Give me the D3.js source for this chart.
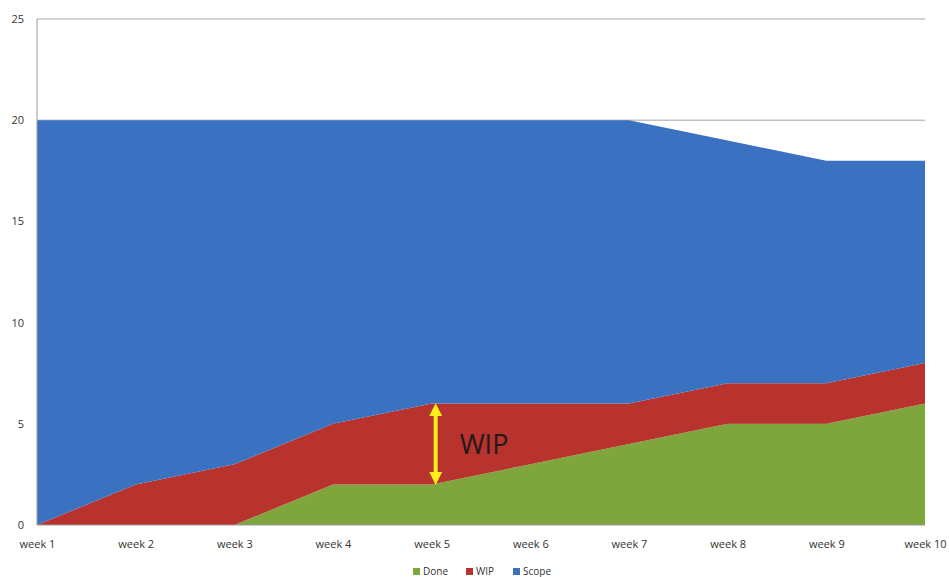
<!DOCTYPE html>
<html>
<head>
<meta charset="utf-8">
<script src="https://cdn.jsdelivr.net/npm/d3@7/dist/d3.min.js"></script>
<style>
  html, body { margin: 0; padding: 0; background: #fff; }
  svg { display: block; font-family: "Open Sans", "DejaVu Sans", sans-serif; }
</style>
</head>
<body>
<svg id="chart" width="949" height="577"></svg>
<script>
// Cumulative flow: weekly counts of finished items, items in progress, and total scope
const weeks = ["week 1", "week 2", "week 3", "week 4", "week 5", "week 6", "week 7", "week 8", "week 9", "week 10"];
const done  = [0, 0, 0, 2, 2, 3, 4, 5, 5, 6];
const wip   = [0, 2, 3, 3, 4, 3, 2, 2, 2, 2];
const scope = [20, 20, 20, 20, 20, 20, 20, 19, 18, 18];
const yTicks = [0, 5, 10, 15, 20, 25];

const seriesNames = ["Done", "WIP", "Scope"];
const colors = { Done: "#7fa63c", WIP: "#b8322e", Scope: "#3a72c1" };

const svg = d3.select("#chart");
const plotLeft = 37, plotRight = 925, plotTop = 19, plotBottom = 525;

const x = d3.scalePoint().domain(weeks).range([plotLeft, plotRight]);
const y = d3.scaleLinear().domain([0, 25]).range([plotBottom, plotTop]);

// Stack: done at the bottom, then work in progress, then remaining scope
const rows = weeks.map((w, i) => ({
  week: w,
  Done: done[i],
  WIP: wip[i],
  Scope: scope[i] - done[i] - wip[i]
}));
const stacked = d3.stack().keys(seriesNames)(rows);

// Gridlines
svg.append("g")
  .selectAll("line")
  .data(yTicks.filter(t => t > 0))
  .join("line")
  .attr("x1", plotLeft).attr("x2", plotRight)
  .attr("y1", d => y(d)).attr("y2", d => y(d))
  .attr("stroke", "#a6a6a6").attr("stroke-width", 1);

const area = d3.area()
  .x(d => x(d.data.week))
  .y0(d => y(d[0]))
  .y1(d => y(d[1]));

svg.append("g")
  .selectAll("path")
  .data(stacked)
  .join("path")
  .attr("d", area)
  .attr("fill", d => colors[d.key]);

// Axis lines
svg.append("line")
  .attr("x1", plotLeft).attr("x2", plotLeft).attr("y1", plotTop).attr("y2", plotBottom)
  .attr("stroke", "#9a9a9a").attr("stroke-width", 1);
svg.append("line")
  .attr("x1", plotLeft).attr("x2", plotRight).attr("y1", plotBottom).attr("y2", plotBottom)
  .attr("stroke", "#9a9a9a").attr("stroke-width", 1);

// Y axis labels
const yAxis = d3.axisLeft(y).tickValues(yTicks).tickSize(0).tickPadding(13);
const gy = svg.append("g").attr("transform", `translate(${plotLeft},0)`).call(yAxis);
gy.select(".domain").remove();
gy.selectAll("text").attr("font-size", 11).attr("fill", "#333")
  .attr("font-family", "\"Open Sans\", \"DejaVu Sans\", sans-serif");

// X axis labels
const xAxis = d3.axisBottom(x).tickSize(0).tickPadding(15);
const gx = svg.append("g").attr("transform", `translate(0,${plotBottom})`).call(xAxis);
gx.select(".domain").remove();
gx.selectAll("text").attr("font-size", 11).attr("fill", "#333")
  .attr("font-family", "\"Open Sans\", \"DejaVu Sans\", sans-serif");

// WIP annotation arrow at week 5
const wk = "week 5";
const i5 = weeks.indexOf(wk);
const ax = x(wk) + 4;
const yTop = y(done[i5] + wip[i5]);
const yBot = y(done[i5]);
const defs = svg.append("defs");
defs.append("marker")
  .attr("id", "arrowHead")
  .attr("viewBox", "0 0 10 10")
  .attr("refX", 5).attr("refY", 5)
  .attr("markerWidth", 3.2).attr("markerHeight", 3.2)
  .attr("orient", "auto-start-reverse")
  .append("path")
  .attr("d", "M0,0 L10,5 L0,10 Z")
  .attr("fill", "#ffef1a");
svg.append("line")
  .attr("x1", ax).attr("x2", ax)
  .attr("y1", yTop + 6).attr("y2", yBot - 6)
  .attr("stroke", "#ffef1a").attr("stroke-width", 4)
  .attr("marker-start", "url(#arrowHead)")
  .attr("marker-end", "url(#arrowHead)");

svg.append("text")
  .attr("x", ax + 24).attr("y", (yTop + yBot) / 2 + 10)
  .attr("font-size", 27).attr("fill", "#231a1a")
  .attr("font-family", "\"Open Sans\", \"DejaVu Sans\", sans-serif")
  .text("WIP");

// Legend
const legend = svg.append("g").attr("transform", "translate(413,575)");
const legendX = [0, 53, 100];
seriesNames.forEach((name, i) => {
  const g = legend.append("g").attr("transform", `translate(${legendX[i]},0)`);
  g.append("rect").attr("x", 0).attr("y", -7).attr("width", 7).attr("height", 7)
    .attr("fill", colors[name]);
  g.append("text").attr("x", 10).attr("y", 0)
    .attr("font-size", 10).attr("fill", "#333")
    .text(name);
});
</script>
</body>
</html>
